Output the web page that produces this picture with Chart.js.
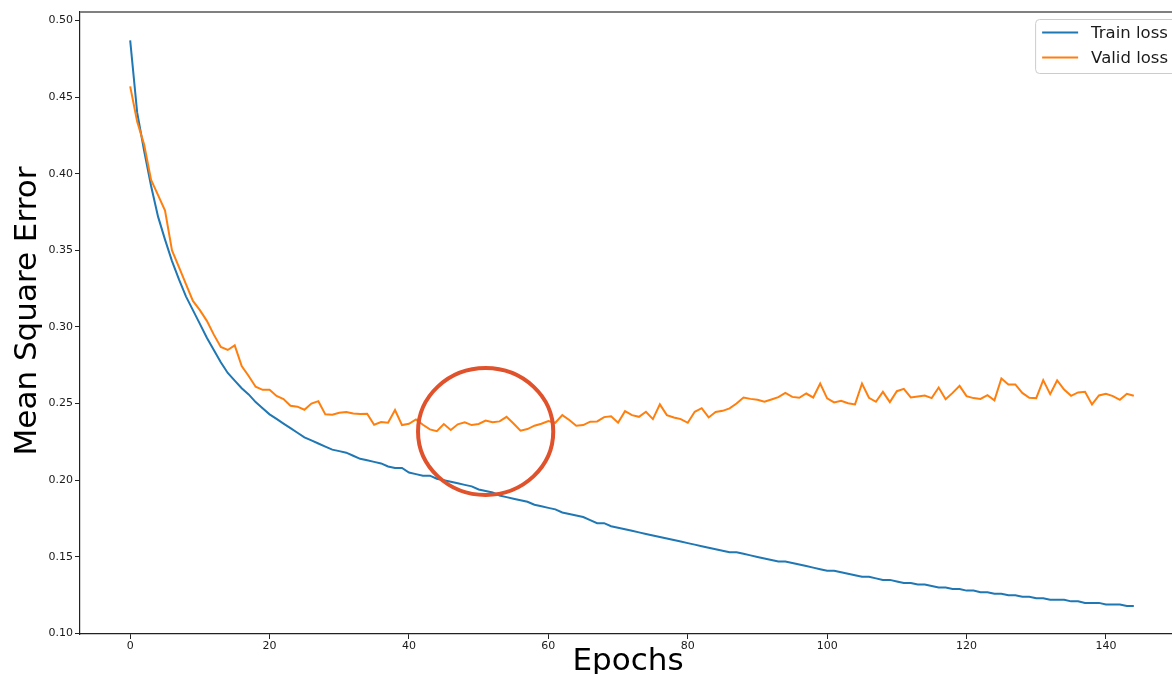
<!DOCTYPE html>
<html><head><meta charset="utf-8">
<script src="https://cdn.jsdelivr.net/npm/chart.js@4.4.1/dist/chart.umd.min.js"></script>
<style>
html,body{margin:0;padding:0;overflow:hidden;background:#fff;width:1172px;height:674px}
#wrap{position:absolute;left:0;top:0;width:1200px;height:674px}
</style></head>
<body><div id="wrap"><canvas id="c" width="1200" height="674"></canvas></div>
<script>
const trainLoss = [
0.487,0.440,0.415,0.392,0.372,0.357,0.343,0.331,0.320,0.311,
0.302,0.293,0.285,0.277,0.270,0.265,0.260,0.256,0.251,0.247,
0.243,0.240,0.237,0.234,0.231,0.228,0.226,0.224,0.222,0.220,
0.219,0.218,0.216,0.214,0.213,0.212,0.211,0.209,0.208,0.208,
0.205,0.204,0.203,0.203,0.201,0.200,0.199,0.198,0.197,0.196,
0.194,0.193,0.192,0.190,0.189,0.188,0.187,0.186,0.184,0.183,
0.182,0.181,0.179,0.178,0.177,0.176,0.174,0.172,0.172,0.170,
0.169,0.168,0.167,0.166,0.165,0.164,0.163,0.162,0.161,0.160,
0.159,0.158,0.157,0.156,0.155,0.154,0.153,0.153,0.152,0.151,
0.150,0.149,0.148,0.147,0.147,0.146,0.145,0.144,0.143,0.142,
0.141,0.141,0.140,0.139,0.138,0.137,0.137,0.136,0.135,0.135,
0.134,0.133,0.133,0.132,0.132,0.131,0.130,0.130,0.129,0.129,
0.128,0.128,0.127,0.127,0.126,0.126,0.125,0.125,0.124,0.124,
0.123,0.123,0.122,0.122,0.122,0.121,0.121,0.120,0.120,0.120,
0.119,0.119,0.119,0.118,0.118
];
const validLoss = [
0.457,0.434,0.419,0.396,0.386,0.376,0.350,0.339,0.328,0.317,
0.311,0.304,0.295,0.287,0.285,0.288,0.2745,0.268,0.261,0.259,
0.259,0.255,0.253,0.2486,0.248,0.246,0.250,0.2516,0.243,0.2427,
0.244,0.2445,0.2436,0.2432,0.2434,0.2362,0.238,0.2375,0.2458,0.236,
0.2368,0.2397,0.2362,0.2332,0.232,0.2367,0.2328,0.2365,0.2378,0.236,
0.2367,0.239,0.2378,0.2384,0.2414,0.237,0.2323,0.2334,0.2356,0.2369,
0.2386,0.2375,0.2425,0.2393,0.2356,0.236,0.2382,0.2384,0.2412,0.2417,
0.2375,0.2451,0.2425,0.2414,0.2447,0.2399,0.2495,0.2425,0.241,0.2399,
0.2375,0.2447,0.247,0.241,0.2445,0.2453,0.2469,0.2501,0.254,0.2531,
0.2525,0.2512,0.2527,0.2542,0.257,0.2544,0.2538,0.2566,0.254,0.2631,
0.2534,0.2508,0.2518,0.2503,0.2495,0.2631,0.2538,0.2512,0.2577,0.251,
0.2581,0.2596,0.254,0.2547,0.2553,0.2536,0.2605,0.2529,0.257,0.2616,
0.2549,0.2536,0.2531,0.2555,0.2521,0.2664,0.2625,0.2625,0.257,0.2538,
0.2536,0.2653,0.2562,0.2651,0.2592,0.2551,0.2573,0.2577,0.2495,0.2553,
0.2564,0.2549,0.2525,0.2564,0.2551
];
const epochs = trainLoss.map((_, i) => i);
const xTicks = [0, 20, 40, 60, 80, 100, 120, 140];
const yTicks = [0.10, 0.15, 0.20, 0.25, 0.30, 0.35, 0.40, 0.45, 0.50];
const seriesNames = ['Train loss', 'Valid loss'];
const xTitle = 'Epochs';
const yTitle = 'Mean Square Error';
const xRange = [-7.2, 151.2];
const yRange = [0.0997, 0.5055];
// highlighted region (data units): centre epoch, centre value, half-width in epochs, half-height in value
const highlightCenter = [51.0, 0.2318];
const highlightRadius = [9.7, 0.0414];

const COLORS = ['#1f77b4', '#ff7f0e'];
const FONT = "'DejaVu Sans', sans-serif";
Chart.defaults.font.family = FONT;

const decor = {
  id: 'decor',
  afterDraw(chart) {
    const ctx = chart.ctx, a = chart.chartArea;
    const xs = chart.scales.x, ys = chart.scales.y;
    ctx.save();
    // top & right spines
    ctx.strokeStyle = '#808080'; ctx.lineWidth = 2;
    ctx.beginPath(); ctx.moveTo(a.left, a.top); ctx.lineTo(a.right, a.top); ctx.lineTo(a.right, a.bottom); ctx.stroke();
    // highlight ellipse
    const cx = xs.getPixelForValue(highlightCenter[0]);
    const cy = ys.getPixelForValue(highlightCenter[1]);
    const rx = xs.getPixelForValue(highlightCenter[0] + highlightRadius[0]) - cx;
    const ry = cy - ys.getPixelForValue(highlightCenter[1] + highlightRadius[1]);
    ctx.strokeStyle = '#e0522b'; ctx.lineWidth = 4;
    ctx.beginPath(); ctx.ellipse(cx, cy, rx, ry, 0, 0, Math.PI * 2); ctx.stroke();
    // legend
    ctx.font = '16.5px ' + FONT;
    const tw = Math.max(...chart.data.datasets.map(d => ctx.measureText(d.label).width));
    const bw = 7 + 36 + 13 + tw + 9, bh = 54;
    const bx = a.right - 7 - bw, by = a.top + 7;
    ctx.fillStyle = 'rgba(255,255,255,0.85)';
    ctx.strokeStyle = '#cccccc'; ctx.lineWidth = 1;
    ctx.beginPath();
    if (ctx.roundRect) ctx.roundRect(bx + 0.5, by + 0.5, bw, bh, 4); else ctx.rect(bx + 0.5, by + 0.5, bw, bh);
    ctx.fill(); ctx.stroke();
    chart.data.datasets.forEach((d, i) => {
      const ly = by + 13.5 + i * 25;
      ctx.strokeStyle = d.borderColor; ctx.lineWidth = 2;
      ctx.beginPath(); ctx.moveTo(bx + 7, ly); ctx.lineTo(bx + 43, ly); ctx.stroke();
      ctx.fillStyle = '#1a1a1a'; ctx.textBaseline = 'middle'; ctx.textAlign = 'left';
      ctx.fillText(d.label, bx + 56, ly + 1);
    });
    // axis titles
    ctx.fillStyle = '#000';
    ctx.font = '31px ' + FONT;
    ctx.textAlign = 'center'; ctx.textBaseline = 'alphabetic';
    ctx.fillText(xTitle, (a.left + a.right) / 2 - 4, 670);
    ctx.translate(36, (a.top + a.bottom) / 2 - 12);
    ctx.rotate(-Math.PI / 2);
    ctx.fillText(yTitle, 0, 0);
    ctx.restore();
  }
};

new Chart(document.getElementById('c'), {
  type: 'line',
  data: {
    labels: epochs,
    datasets: [
      { label: seriesNames[0], data: trainLoss, borderColor: COLORS[0], backgroundColor: COLORS[0], borderWidth: 2, pointRadius: 0, tension: 0, order: 1 },
      { label: seriesNames[1], data: validLoss, borderColor: COLORS[1], backgroundColor: COLORS[1], borderWidth: 2, pointRadius: 0, tension: 0, order: 0 }
    ]
  },
  options: {
    responsive: false,
    animation: false,
    devicePixelRatio: 1,
    layout: { padding: { left: 0, top: 12, right: 16, bottom: 0 } },
    plugins: { legend: { display: false }, tooltip: { enabled: false }, title: { display: false } },
    scales: {
      x: {
        type: 'linear', min: xRange[0], max: xRange[1],
        afterBuildTicks: s => { s.ticks = xTicks.map(v => ({ value: v })); },
        afterFit: s => { s.height = 40; },
        ticks: { callback: v => String(v), font: { size: 11 }, color: '#1a1a1a', padding: 1, maxRotation: 0, autoSkip: false },
        grid: { drawOnChartArea: false, drawTicks: true, tickLength: 5, tickColor: '#222', tickWidth: 1 },
        border: { display: true, color: '#222', width: 1.2 }
      },
      y: {
        type: 'linear', min: yRange[0], max: yRange[1],
        afterBuildTicks: s => { s.ticks = yTicks.map(v => ({ value: v })); },
        afterFit: s => { s.width = 80; },
        ticks: { callback: v => v.toFixed(2), font: { size: 11 }, color: '#1a1a1a', padding: 2, autoSkip: false },
        grid: { drawOnChartArea: false, drawTicks: true, tickLength: 5, tickColor: '#222', tickWidth: 1 },
        border: { display: true, color: '#222', width: 1.2 }
      }
    }
  },
  plugins: [decor]
});
</script>
</body></html>
